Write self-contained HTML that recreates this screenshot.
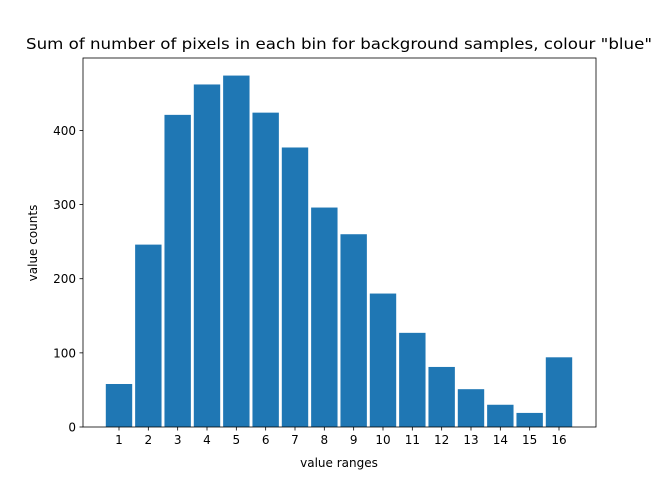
<!DOCTYPE html>
<html><head><meta charset="utf-8"><style>
body{margin:0;background:#fff;}
svg{display:block;font-family:"DejaVu Sans","Liberation Sans",sans-serif;}
</style></head><body>
<svg id="chart" width="662" height="480">
<text x="339" y="49" font-size="15" text-anchor="middle" textLength="626" lengthAdjust="spacingAndGlyphs">Sum of number of pixels in each bin for background samples, colour "blue"</text>
<g id="bars"></g>
<g id="axes"></g>
<text x="339" y="467" font-size="12" text-anchor="middle">value ranges</text>
<text transform="translate(37,243) rotate(-90)" font-size="12" text-anchor="middle">value counts</text>
</svg>
<script>
const categories=["1","2","3","4","5","6","7","8","9","10","11","12","13","14","15","16"];
const values=[58,246,421,462,474,424,377,296,260,180,127,81,51,30,19,94];
const yTicks=[0,100,200,300,400];
const L=83,R=596,T=58,B=427;
const yMax=497.7;
const x=i=>119+i*29.333;
const y=v=>B-(v/yMax)*(B-T);
const bw=26.4;
const ns="http://www.w3.org/2000/svg";
const bars=document.getElementById('bars'),axes=document.getElementById('axes');
function mk(tag,attrs,parent){const e=document.createElementNS(ns,tag);for(const k in attrs)e.setAttribute(k,attrs[k]);parent.appendChild(e);return e;}
values.forEach((v,i)=>{
 const r=mk('rect',{x:x(i)-bw/2,y:y(v),width:bw,height:B-y(v),fill:'#1f77b4'},bars);
 
 
});
const frame=mk('rect',{x:L,y:T,width:R-L,height:B-T,fill:'none',stroke:'#000','stroke-width':0.8},axes);


categories.forEach((c,i)=>{
 mk('line',{x1:x(i),x2:x(i),y1:B,y2:B+3.5,stroke:'#000','stroke-width':0.8},axes);
 const t=mk('text',{x:x(i),y:B+17,'font-size':12,'text-anchor':'middle'},axes);
 t.textContent=c;
 
 
});
yTicks.forEach(v=>{
 mk('line',{x1:L-3.5,x2:L,y1:y(v),y2:y(v),stroke:'#000','stroke-width':0.8},axes);
 const t=mk('text',{x:L-7,y:y(v)+4.5,'font-size':12,'text-anchor':'end'},axes);
 t.textContent=v;
 
 
});
</script>
</body></html>
